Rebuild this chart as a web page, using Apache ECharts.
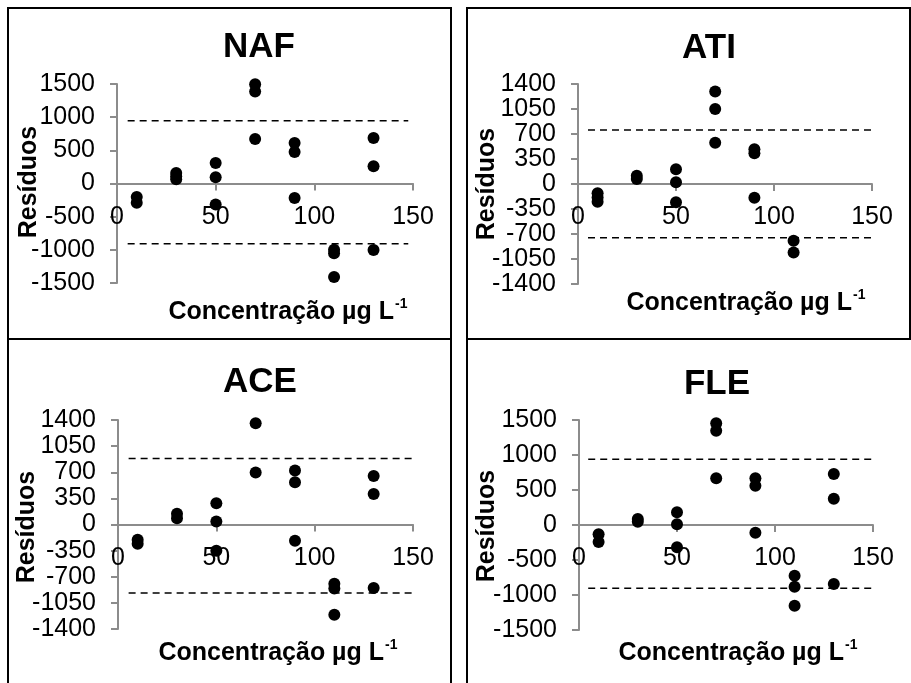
<!DOCTYPE html>
<html>
<head>
<meta charset="utf-8">
<script src="https://cdn.jsdelivr.net/npm/echarts@6/dist/echarts.min.js"></script>
<style>
html,body{margin:0;padding:0;background:#fff;}
#chart{width:911px;height:683px;}
</style>
</head>
<body>
<div id="chart"></div>
<script>
// ---- Data ----
const panelTitles = ['NAF', 'ATI', 'ACE', 'FLE'];
const xTicks = [0, 50, 100, 150];
const yTicksNAF = [-1500, -1000, -500, 0, 500, 1000, 1500];
const yTicksATI = [-1400, -1050, -700, -350, 0, 350, 700, 1050, 1400];
const yTicksACE = [-1400, -1050, -700, -350, 0, 350, 700, 1050, 1400];
const yTicksFLE = [-1500, -1000, -500, 0, 500, 1000, 1500];

const nafPoints = [[10,-205],[10,-290],[30,160],[30,110],[30,65],[50,310],[50,95],[50,-315],
  [70,1498],[70,1388],[70,671],[90,611],[90,476],[90,-220],[110,-1000],[110,-1050],[110,-1408],
  [130,686],[130,260],[130,-1002]];
const atiPoints = [[10,-130],[10,-190],[10,-250],[30,117],[30,70],[50,206],[50,23],[50,-257],
  [70,1294],[70,1051],[70,579],[90,486],[90,430],[90,-192],[110,-794],[110,-958]];
const acePoints = [[10,-205],[10,-259],[30,143],[30,85],[50,285],[50,40],[50,-352],
  [70,1355],[70,696],[90,722],[90,566],[90,-218],[110,-794],[110,-856],[110,-1208],
  [130,651],[130,410],[130,-852]];
const flePoints = [[10,-133],[10,-243],[30,86],[30,48],[50,181],[50,10],[50,-319],
  [70,1452],[70,1348],[70,667],[90,667],[90,562],[90,-110],[110,-724],[110,-881],[110,-1152],
  [130,729],[130,376],[130,-843]];

// control limits [upper, lower] and dashed-line x extent [start, end]
const nafLimits = [947, -907];
const atiLimits = [757, -752];
const aceLimits = [883, -918];
const fleLimits = [938, -905];
const nafLimitX = [5.4, 147.6];
const atiLimitX = [5.1, 153];
const aceLimitX = [5.4, 152.8];
const fleLimitX = [4.7, 153.4];

const yAxisName = 'Resíduos';
const xAxisName = 'Concentração µg L';
const xAxisSup = '-1';

// ---- Layout (pixels) ----
const FONT = '"Liberation Sans", Arial, sans-serif';
const panels = [
  {pts: nafPoints, lim: nafLimits, limX: nafLimitX, ticks: yTicksNAF,
   grid: {left: 117, top: 84, width: 296, height: 199},
   title: [259, 47], yname: [29, 182], xname: [394, 312]},
  {pts: atiPoints, lim: atiLimits, limX: atiLimitX, ticks: yTicksATI,
   grid: {left: 578, top: 84, width: 294, height: 200},
   title: [709, 48], yname: [487, 184], xname: [852, 303]},
  {pts: acePoints, lim: aceLimits, limX: aceLimitX, ticks: yTicksACE,
   grid: {left: 118, top: 420, width: 295, height: 209},
   title: [260, 382], yname: [27, 527], xname: [384, 653]},
  {pts: flePoints, lim: fleLimits, limX: fleLimitX, ticks: yTicksFLE,
   grid: {left: 579, top: 420, width: 294, height: 210},
   title: [717, 384], yname: [487, 526], xname: [844, 653]}
];

const axisColor = '#8c8c8c';
const grids = [], xAxes = [], yAxes = [], series = [], graphics = [];
const plain = v => String(v);

panels.forEach((p, i) => {
  grids.push(Object.assign({containLabel: false}, p.grid));
  const xmin = xTicks[0], xmax = xTicks[xTicks.length - 1], xint = xTicks[1] - xTicks[0];
  // axis line + ticks (on zero)
  xAxes.push({
    type: 'value', gridIndex: i, min: xmin, max: xmax, interval: xint, position: 'bottom',
    axisLine: {show: true, onZero: true, lineStyle: {color: axisColor, width: 2}},
    axisTick: {show: true, length: 7, lineStyle: {color: axisColor, width: 2}},
    axisLabel: {show: false},
    splitLine: {show: false}
  });
  // labels only, shifted up to the zero line
  xAxes.push({
    type: 'value', gridIndex: i, min: xmin, max: xmax, interval: xint, position: 'bottom',
    offset: -p.grid.height / 2,
    axisLine: {show: false, onZero: false},
    axisTick: {show: false},
    axisLabel: {color: '#000', fontSize: 25, fontFamily: FONT, margin: 21, formatter: plain},
    splitLine: {show: false}
  });
  const t = p.ticks;
  yAxes.push({
    type: 'value', gridIndex: i, min: t[0], max: t[t.length - 1], interval: t[1] - t[0],
    axisLine: {show: true, lineStyle: {color: axisColor, width: 2}},
    axisTick: {show: true, length: 7, lineStyle: {color: axisColor, width: 2}},
    axisLabel: {color: '#000', fontSize: 25, fontFamily: FONT, margin: 22, formatter: plain},
    splitLine: {show: false}
  });
  const xi = 2 * i;
  p.lim.forEach(v => {
    series.push({
      type: 'line', xAxisIndex: xi, yAxisIndex: i, clip: false, silent: true,
      symbol: 'none', data: [[p.limX[0], v], [p.limX[1], v]],
      lineStyle: {color: '#000', width: 1.5, type: [7, 5]}, z: 2
    });
  });
  series.push({
    type: 'scatter', xAxisIndex: xi, yAxisIndex: i, clip: false,
    symbol: 'circle', symbolSize: 12, data: p.pts,
    itemStyle: {color: '#000', opacity: 1}, z: 3
  });
  graphics.push({
    type: 'text', x: p.title[0], y: p.title[1],
    style: {text: panelTitles[i], font: 'bold 35px ' + FONT, fill: '#000', align: 'center', verticalAlign: 'middle'}
  });
  graphics.push({
    type: 'text', x: p.yname[0], y: p.yname[1], rotation: Math.PI / 2,
    style: {text: yAxisName, font: 'bold 25px ' + FONT, fill: '#000', align: 'center', verticalAlign: 'middle'}
  });
  graphics.push({
    type: 'text', x: p.xname[0], y: p.xname[1],
    style: {text: xAxisName, font: 'bold 25px ' + FONT, fill: '#000', align: 'right', verticalAlign: 'middle'}
  });
  graphics.push({
    type: 'text', x: p.xname[0] + 1, y: p.xname[1] - 15,
    style: {text: xAxisSup, font: 'bold 14px ' + FONT, fill: '#000', align: 'left', verticalAlign: 'top'}
  });
});

// panel frames
const frameLines = [
  [7, 8, 452, 8], [466, 8, 911, 8],
  [7, 339, 452, 339], [466, 339, 911, 339],
  [8, 7, 8, 683], [451, 7, 451, 683], [467, 7, 467, 683], [910, 7, 910, 340]
];
frameLines.forEach(l => {
  graphics.push({
    type: 'line', shape: {x1: l[0], y1: l[1], x2: l[2], y2: l[3]},
    style: {stroke: '#000', lineWidth: 2}, z: 10
  });
});

const chart = echarts.init(document.getElementById('chart'), null, {renderer: 'canvas'});
chart.setOption({
  backgroundColor: '#fff',
  animation: false,
  grid: grids, xAxis: xAxes, yAxis: yAxes, series: series,
  graphic: graphics
});
</script>
</body>
</html>
